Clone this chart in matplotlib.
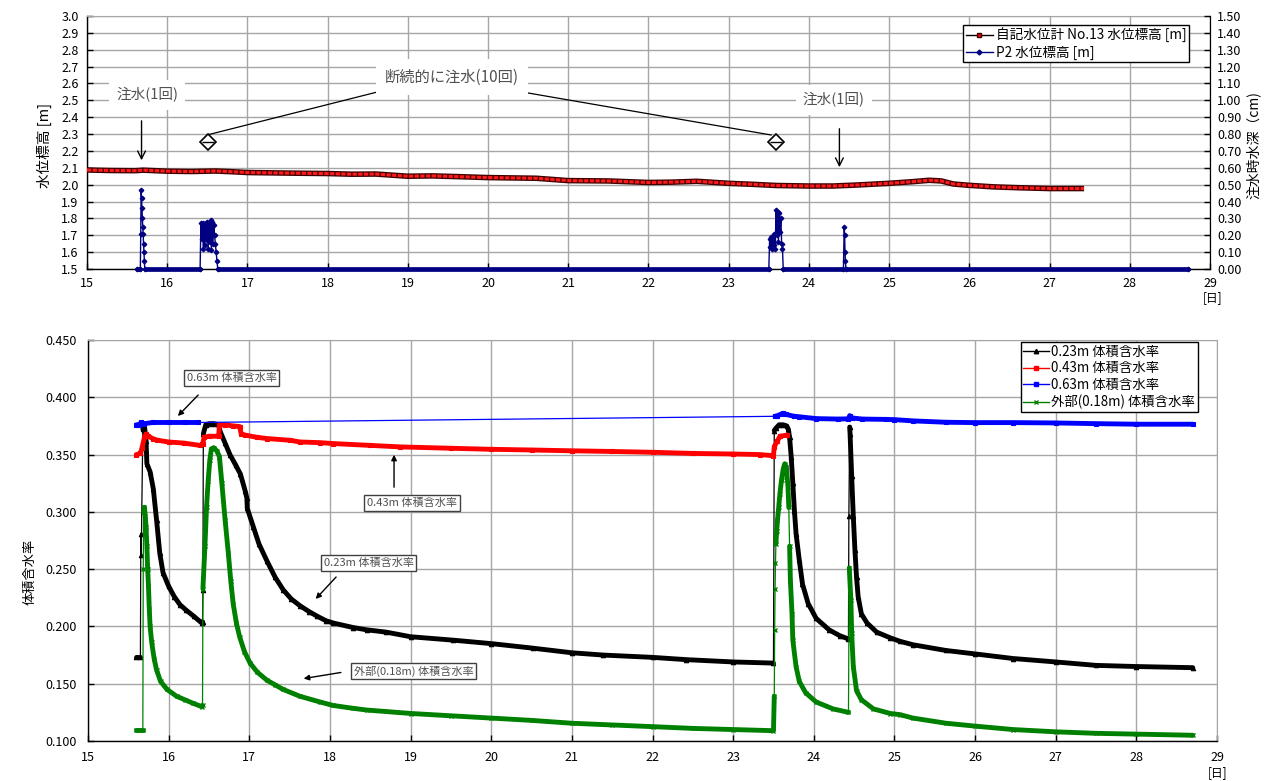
import numpy as np
import matplotlib
matplotlib.use('Agg')
import matplotlib.pyplot as plt
from matplotlib.lines import Line2D

plt.rcParams['font.family'] = ['Noto Sans CJK JP', 'DejaVu Sans']

# ---------------- data: top chart ----------------
wl13_t = [15.0, 15.3, 15.6, 15.7, 16.0, 16.3, 16.6, 16.8, 17.0, 17.3, 17.6, 18.0, 18.3, 18.6,
          19.0, 19.3, 19.6, 20.0, 20.3, 20.6, 21.0, 21.5, 22.0, 22.3, 22.6, 23.0, 23.3, 23.6,
          24.0, 24.3, 24.6, 25.0, 25.3, 25.5, 25.65, 25.8, 26.0, 26.3, 26.6, 27.0, 27.43]
wl13_v = [2.087, 2.084, 2.083, 2.086, 2.080, 2.078, 2.081, 2.077, 2.072, 2.070, 2.068, 2.066, 2.062, 2.063,
          2.050, 2.052, 2.048, 2.042, 2.040, 2.038, 2.024, 2.022, 2.013, 2.015, 2.020, 2.008, 2.002, 1.995,
          1.992, 1.992, 1.998, 2.008, 2.018, 2.026, 2.022, 2.004, 1.996, 1.987, 1.982, 1.977, 1.977]

p2_t = [15.62, 15.665, 15.67, 15.675, 15.68, 15.685, 15.69, 15.695, 15.70, 15.705, 15.71, 15.715, 15.72,
        16.41, 16.42, 16.43, 16.44, 16.45, 16.46, 16.47, 16.48, 16.49, 16.50, 16.51, 16.52, 16.53,
        16.54, 16.55, 16.56, 16.57, 16.58, 16.59, 16.60, 16.61, 16.62, 16.63,
        23.50, 23.51, 23.52, 23.53, 23.54, 23.55, 23.56, 23.57, 23.58, 23.59, 23.60, 23.61, 23.62,
        23.63, 23.64, 23.65, 23.66, 23.67, 23.68,
        24.43, 24.44, 24.445, 24.45, 24.455, 24.46, 28.72]
p2_d = [0, 0, 0.21, 0.47, 0.42, 0.36, 0.30, 0.25, 0.21, 0.15, 0.10, 0.05, 0,
        0, 0.27, 0.18, 0.27, 0.12, 0.25, 0.14, 0.27, 0.17, 0.28, 0.12, 0.26, 0.16,
        0.29, 0.11, 0.28, 0.15, 0.26, 0.20, 0.15, 0.10, 0.05, 0,
        0, 0.18, 0.13, 0.19, 0.12, 0.17, 0.14, 0.21, 0.12, 0.35, 0.20, 0.34, 0.16,
        0.33, 0.22, 0.30, 0.15, 0.12, 0,
        0, 0.25, 0.20, 0.10, 0.05, 0, 0]

# ---------------- data: bottom chart ----------------
s023_t = [15.60, 15.65, 15.655, 15.66, 15.68, 15.70, 15.72, 15.73, 15.77, 15.81, 15.85, 15.89, 15.93,
          16.00, 16.07, 16.14, 16.22, 16.31, 16.41, 16.42, 16.425, 16.43, 16.46, 16.50, 16.56, 16.62,
          16.64, 16.70, 16.76, 16.83, 16.89, 16.95, 16.97, 16.975, 17.05, 17.12, 17.22, 17.32, 17.42,
          17.52, 17.63, 17.74, 17.84, 17.95, 18.04, 18.29, 18.46, 18.70, 19.0, 19.53, 20.0, 20.52,
          21.0, 21.39, 22.0, 22.42, 23.0, 23.50, 23.51, 23.53, 23.57, 23.62, 23.665, 23.685, 23.70,
          23.72, 23.74, 23.76, 23.78, 23.82, 23.86, 23.93, 24.03, 24.19, 24.32, 24.43, 24.435, 24.445,
          24.45, 24.47, 24.49, 24.51, 24.53, 24.55, 24.59, 24.66, 24.78, 24.95, 25.07, 25.23, 25.64,
          26.0, 26.47, 27.0, 27.5, 28.0, 28.70]
s023_v = [0.173, 0.173, 0.281, 0.262, 0.372, 0.375, 0.362, 0.342, 0.335, 0.320, 0.293, 0.264, 0.247,
          0.235, 0.226, 0.219, 0.214, 0.209, 0.203, 0.204, 0.232, 0.368, 0.376, 0.377, 0.377, 0.376,
          0.370, 0.360, 0.350, 0.341, 0.333, 0.318, 0.312, 0.303, 0.287, 0.272, 0.257, 0.243, 0.232,
          0.224, 0.218, 0.213, 0.209, 0.205, 0.203, 0.199, 0.197, 0.195, 0.191, 0.188, 0.185, 0.181,
          0.177, 0.175, 0.173, 0.171, 0.169, 0.168, 0.371, 0.373, 0.376, 0.376, 0.375, 0.372, 0.365,
          0.348, 0.325, 0.301, 0.281, 0.258, 0.237, 0.220, 0.207, 0.197, 0.192, 0.189, 0.296, 0.374,
          0.368, 0.331, 0.296, 0.267, 0.243, 0.226, 0.211, 0.203, 0.195, 0.190, 0.187, 0.184, 0.179,
          0.176, 0.172, 0.169, 0.166, 0.165, 0.164]

s043_t = [15.60, 15.65, 15.67, 15.70, 15.72, 15.75, 15.80, 15.86, 16.0, 16.19, 16.39, 16.42, 16.44,
          16.50, 16.62, 16.63, 16.70, 16.80, 16.88, 16.90, 16.95, 17.1, 17.22, 17.5, 17.63, 17.88,
          18.04, 18.5, 18.87, 19.5, 20.0, 20.5, 21.0, 21.5, 22.0, 22.5, 23.0, 23.33, 23.50, 23.51,
          23.55, 23.58, 23.67]
s043_v = [0.350, 0.351, 0.356, 0.365, 0.368, 0.366, 0.364, 0.3625, 0.361, 0.360, 0.358, 0.359, 0.365,
          0.366, 0.366, 0.376, 0.376, 0.375, 0.3745, 0.368, 0.367, 0.365, 0.364, 0.3625, 0.361, 0.3604,
          0.3596, 0.358, 0.3567, 0.3555, 0.3546, 0.354, 0.3533, 0.3527, 0.352, 0.351, 0.3505, 0.350,
          0.349, 0.357, 0.362, 0.366, 0.367]

s063_t = [15.60, 15.63, 15.66, 15.70, 15.8, 16.0, 16.2, 16.37, 23.52, 23.55, 23.60, 23.62, 23.66,
          23.75, 23.82, 24.03, 24.30, 24.43, 24.445, 24.47, 24.6, 24.89, 25.0, 25.23, 25.64, 26.0,
          26.47, 27.0, 27.5, 28.0, 28.70]
s063_v = [0.376, 0.376, 0.378, 0.377, 0.378, 0.378, 0.378, 0.378, 0.3834, 0.384, 0.3855, 0.386, 0.385,
          0.3835, 0.383, 0.3814, 0.381, 0.3812, 0.384, 0.382, 0.381, 0.3807, 0.3805, 0.3794, 0.3782,
          0.3779, 0.3779, 0.3776, 0.377, 0.3765, 0.3765]

s018_t = [15.60, 15.68, 15.685, 15.69, 15.70, 15.71, 15.72, 15.73, 15.74, 15.75, 15.76, 15.77, 15.79,
          15.82, 15.85, 15.90, 15.98, 16.1, 16.2, 16.3, 16.41, 16.42, 16.425, 16.45, 16.47, 16.49,
          16.51, 16.53, 16.56, 16.60, 16.63, 16.66, 16.70, 16.74, 16.77, 16.80, 16.84, 16.88, 16.94,
          17.01, 17.1, 17.22, 17.32, 17.42, 17.63, 17.88, 18.04, 18.29, 18.46, 19.01, 19.5, 20.0,
          20.5, 21.0, 21.5, 22.01, 22.5, 23.0, 23.50, 23.51, 23.515, 23.52, 23.525, 23.53, 23.54,
          23.55, 23.565, 23.58, 23.60, 23.62, 23.64, 23.66, 23.68, 23.69, 23.70, 23.71, 23.73, 23.74,
          23.78, 23.82, 23.90, 24.03, 24.24, 24.43, 24.44, 24.46, 24.47, 24.49, 24.53, 24.59, 24.74,
          24.95, 25.07, 25.23, 25.64, 26.0, 26.47, 27.0, 27.5, 28.0, 28.70]
s018_v = [0.110, 0.110, 0.250, 0.300, 0.304, 0.296, 0.287, 0.270, 0.250, 0.235, 0.215, 0.200, 0.186,
          0.172, 0.162, 0.152, 0.145, 0.139, 0.136, 0.133, 0.130, 0.131, 0.233, 0.270, 0.304, 0.327,
          0.345, 0.355, 0.356, 0.353, 0.348, 0.325, 0.293, 0.264, 0.240, 0.220, 0.203, 0.191, 0.178,
          0.168, 0.160, 0.153, 0.149, 0.145, 0.139, 0.134, 0.131, 0.1285, 0.127, 0.124, 0.122, 0.120,
          0.118, 0.1155, 0.114, 0.1125, 0.111, 0.110, 0.109, 0.139, 0.197, 0.233, 0.255, 0.272, 0.283,
          0.293, 0.304, 0.316, 0.328, 0.337, 0.342, 0.339, 0.322, 0.304, 0.270, 0.240, 0.211, 0.188,
          0.165, 0.152, 0.142, 0.134, 0.128, 0.125, 0.251, 0.223, 0.194, 0.165, 0.144, 0.136, 0.128,
          0.124, 0.123, 0.120, 0.1155, 0.113, 0.110, 0.108, 0.1067, 0.106, 0.105]

top_xticks = list(range(15, 30))
top_left_ticks = [1.5, 1.6, 1.7, 1.8, 1.9, 2.0, 2.1, 2.2, 2.3, 2.4, 2.5, 2.6, 2.7, 2.8, 2.9, 3.0]
top_right_ticks = [0.0, 0.1, 0.2, 0.3, 0.4, 0.5, 0.6, 0.7, 0.8, 0.9, 1.0, 1.1, 1.2, 1.3, 1.4, 1.5]
bot_yticks = [0.10, 0.15, 0.20, 0.25, 0.30, 0.35, 0.40, 0.45]

W, H = 1288, 781
GRID = '#a6a6a6'
fig = plt.figure(figsize=(W / 100, H / 100), dpi=100)


def fx(px):
    return px / W


def fy(py):
    return 1 - py / H


ax1 = fig.add_axes([fx(87), fy(269), (1210 - 87) / W, (269 - 16) / H])
ax1r = ax1.twinx()
ax2 = fig.add_axes([fx(88), fy(741), (1217 - 88) / W, (741 - 340) / H])


def style_axes(ax, right_black=False):
    for s in ['left', 'bottom']:
        ax.spines[s].set_color('black')
        ax.spines[s].set_linewidth(1.0)
    ax.spines['top'].set_color(GRID)
    ax.spines['right'].set_color('black' if right_black else GRID)
    ax.grid(True, color=GRID, lw=1.0)
    ax.set_axisbelow(True)
    ax.tick_params(direction='in', length=4, width=1, labelsize=9, colors='black')


# ---------------- top chart ----------------
ax1.set_xlim(15, 29)
ax1.set_ylim(1.5, 3.0)
ax1.set_xticks(top_xticks)
ax1.set_yticks(top_left_ticks)
ax1.set_yticklabels([f'{v:.1f}' for v in top_left_ticks])
style_axes(ax1, right_black=True)
ax1.tick_params(axis='x', pad=6)
ax1.tick_params(axis='y', pad=6)

ax1r.set_ylim(0, 1.5)
ax1r.set_yticks(top_right_ticks)
ax1r.set_yticklabels([f'{v:.2f}' for v in top_right_ticks])
ax1r.tick_params(direction='in', length=4, width=1, labelsize=9, pad=5)
for s in ['left', 'top', 'bottom']:
    ax1r.spines[s].set_visible(False)
ax1r.spines['right'].set_color('black')

# water level No.13: chain of red square markers
ax1.plot(wl13_t, wl13_v, color='#400000', lw=4.0, zorder=3, solid_capstyle='butt')
ax1.plot(wl13_t, wl13_v, color='#ff1a1a', lw=2.2, zorder=4, solid_capstyle='butt', dashes=(1.4, 0.45))

# P2 depth
p2_t_a = np.array(p2_t)
p2_d_a = np.array(p2_d)
ax1r.plot(p2_t_a, p2_d_a, color='#000080', lw=1.0, marker='D', ms=2.3, zorder=3, clip_on=False)
base = np.ma.masked_where(p2_d_a != 0, p2_d_a)
ax1r.plot(p2_t_a, base, color='#000080', lw=3.4, zorder=3, solid_capstyle='round', clip_on=False)

leg1 = ax1r.legend(handles=[
    Line2D([], [], color='black', lw=1, marker='s', mfc='#ff0000', mec='#400000', ms=3.5),
    Line2D([], [], color='#000080', lw=1, marker='D', ms=2.5)],
    labels=['自記水位計 No.13 水位標高 [m]', 'P2 水位標高 [m]'],
    loc='upper right', bbox_to_anchor=(fx(1189), fy(25)), bbox_transform=fig.transFigure,
    fontsize=9.8, frameon=True, fancybox=False, framealpha=1, edgecolor='black',
    handlelength=2.0, handletextpad=0.2, labelspacing=0.2, borderpad=0.2, borderaxespad=0)
leg1.get_frame().set_linewidth(1.0)
leg1.set_zorder(10)

# annotations (top)
ann_col = '#505050'
ax1r.annotate('', xy=(15.68, 2.128 - 1.5), xytext=(15.68, 2.395 - 1.5),
              arrowprops=dict(arrowstyle='->', color='black', lw=1, mutation_scale=14))
ax1r.text(15.75, 2.532 - 1.5, '注水(1回)', fontsize=10.5, color=ann_col, ha='center', va='center',
          bbox=dict(boxstyle='square,pad=0.5', fc='white', ec='none'))
ax1r.annotate('', xy=(24.38, 2.087 - 1.5), xytext=(24.38, 2.348 - 1.5),
              arrowprops=dict(arrowstyle='->', color='black', lw=1, mutation_scale=14))
ax1r.text(24.31, 2.502 - 1.5, '注水(1回)', fontsize=10.5, color=ann_col, ha='center', va='center',
          bbox=dict(boxstyle='square,pad=0.5', fc='white', ec='none'))
ax1r.plot([18.716, 16.496], [2.561 - 1.5, 2.2945 - 1.5], color='black', lw=0.9)
ax1r.plot([20.287, 23.529], [2.561 - 1.5, 2.2945 - 1.5], color='black', lw=0.9)
for dx in (16.509, 23.591):
    ax1r.plot([dx], [2.253 - 1.5], marker='D', ms=8, mfc='white', mec='black', mew=1.2, zorder=6)
    ax1r.plot([dx], [2.253 - 1.5], marker='_', ms=8, mec='black', mew=1.0, zorder=7)
ax1r.text(19.55, 2.638 - 1.5, '断続的に注水(10回)', fontsize=11, color=ann_col, ha='center', va='center',
          bbox=dict(boxstyle='square,pad=0.6', fc='white', ec='none'))

fig.text(fx(44), fy(145), '水位標高 [m]', rotation=90, ha='center', va='center', fontsize=10.5)
fig.text(fx(1253), fy(145), '注水時水深（cm)', rotation=90, ha='center', va='center', fontsize=10)
fig.text(fx(1213), fy(298), '[日]', ha='center', va='center', fontsize=8.5)

# ---------------- bottom chart ----------------
ax2.set_xlim(15, 29)
ax2.set_ylim(0.10, 0.45)
ax2.set_xticks(top_xticks)
ax2.set_yticks(bot_yticks)
ax2.set_yticklabels([f'{v:.3f}' for v in bot_yticks])
style_axes(ax2)
ax2.tick_params(axis='x', pad=7)
ax2.tick_params(axis='y', pad=8)


def draw_series(ax, t, v, color, marker, ms, mew, z, slope_max=3.0, gap_max=1.0, thick=3.5):
    t = np.asarray(t, dtype=float)
    v = np.asarray(v, dtype=float)
    ax.plot(t, v, color=color, lw=0.9, marker=marker, ms=ms, mew=mew, zorder=z + 0.1)
    dt = np.diff(t)
    dv = np.abs(np.diff(v))
    ok = (dv / dt < slope_max) & (dt < gap_max)
    i, n = 0, len(ok)
    while i < n:
        if ok[i]:
            j = i
            while j < n and ok[j]:
                j += 1
            ax.plot(t[i:j + 1], v[i:j + 1], color=color, lw=thick, zorder=z,
                    solid_capstyle='round', solid_joinstyle='round')
            i = j
        else:
            i += 1


draw_series(ax2, s023_t, s023_v, 'black', '^', 3.2, 0.8, 3)
draw_series(ax2, s043_t, s043_v, '#ff0000', 's', 2.8, 0.8, 4)
draw_series(ax2, s063_t, s063_v, '#0000ff', 's', 2.8, 0.8, 5)
draw_series(ax2, s018_t, s018_v, '#008000', 'x', 3.2, 1.0, 6)

leg2 = ax2.legend(handles=[
    Line2D([], [], color='black', lw=1, marker='^', ms=3.2),
    Line2D([], [], color='#ff0000', lw=1, marker='s', ms=3),
    Line2D([], [], color='#0000ff', lw=1, marker='s', ms=3),
    Line2D([], [], color='#008000', lw=1, marker='x', ms=3.2)],
    labels=['0.23m 体積含水率', '0.43m 体積含水率', '0.63m 体積含水率', '外部(0.18m) 体積含水率'],
    loc='upper right', bbox_to_anchor=(fx(1198), fy(342)), bbox_transform=fig.transFigure,
    fontsize=9.6, frameon=True, fancybox=False, framealpha=1, edgecolor='black',
    handlelength=1.9, handletextpad=0.2, labelspacing=0.2, borderpad=0.2, borderaxespad=0)
leg2.get_frame().set_linewidth(1.0)
leg2.set_zorder(10)

box = dict(boxstyle='square,pad=0.25', fc='white', ec='#404040', lw=1)
aprops = dict(arrowstyle='-|>', color='black', lw=1, mutation_scale=8)
ax2.annotate('', xy=(16.09, 0.3819), xytext=(16.39, 0.4037), arrowprops=aprops, zorder=8)
ax2.text(16.78, 0.4168, '0.63m 体積含水率', fontsize=8, color=ann_col, ha='center', va='center', bbox=box, zorder=9)
ax2.annotate('', xy=(18.795, 0.3523), xytext=(18.795, 0.3191), arrowprops=aprops, zorder=8)
ax2.text(19.02, 0.3077, '0.43m 体積含水率', fontsize=8, color=ann_col, ha='center', va='center', bbox=box, zorder=9)
ax2.annotate('', xy=(17.80, 0.2222), xytext=(18.10, 0.2449), arrowprops=aprops, zorder=8)
ax2.text(18.48, 0.2554, '0.23m 体積含水率', fontsize=8, color=ann_col, ha='center', va='center', bbox=box, zorder=9)
ax2.annotate('', xy=(17.64, 0.1541), xytext=(18.17, 0.1602), arrowprops=aprops, zorder=8)
ax2.text(19.04, 0.1611, '外部(0.18m) 体積含水率', fontsize=8, color=ann_col, ha='center', va='center', bbox=box, zorder=9)

fig.text(fx(30), fy(572), '体積含水率', rotation=90, ha='center', va='center', fontsize=9.5)
fig.text(fx(1218), fy(773), '[日]', ha='center', va='center', fontsize=8.5)

fig.savefig('out.png', dpi=100)
